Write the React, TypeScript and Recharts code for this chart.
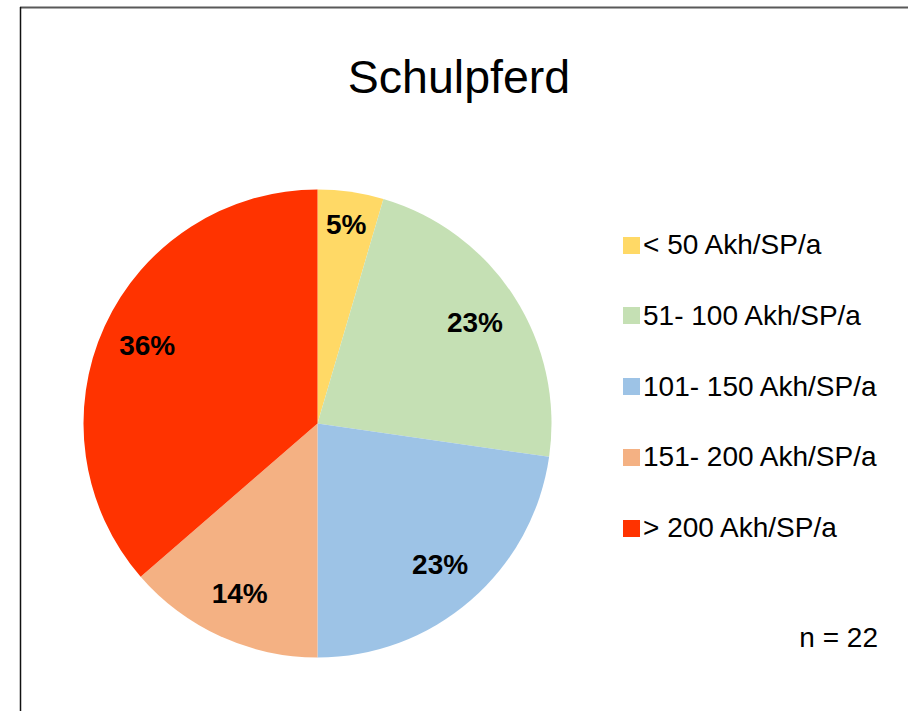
import React from "react";
import { PieChart, Pie, Cell, Legend } from "recharts";

const CATEGORIES = [
  "< 50 Akh/SP/a",
  "51- 100 Akh/SP/a",
  "101- 150 Akh/SP/a",
  "151- 200 Akh/SP/a",
  "> 200 Akh/SP/a",
];
const COUNTS = [1, 5, 5, 3, 8];
const COLORS = ["#FFD966", "#C5E0B4", "#9DC3E6", "#F4B183", "#FF3300"];
const TITLE = "Schulpferd";
const SAMPLE_NOTE = "n = 22";

const FONT = '"Liberation Sans", Arial, sans-serif';
const RADIAN = Math.PI / 180;

const chartData = CATEGORIES.map((name, i) => ({ name, value: COUNTS[i] }));

function renderLabel(props: any) {
  const { cx, cy, midAngle, outerRadius, percent } = props;
  // small slices get their label pushed a bit further out, like Excel does
  const r = outerRadius * (percent < 0.1 ? 0.86 : 0.8);
  const x = cx + r * Math.cos(-midAngle * RADIAN);
  const y = cy + r * Math.sin(-midAngle * RADIAN);
  return (
    <text
      x={x}
      y={y}
      textAnchor="middle"
      dominantBaseline="central"
      fill="#000"
      fontFamily={FONT}
      fontSize={28}
      fontWeight="bold"
    >
      {`${Math.round(percent * 100)}%`}
    </text>
  );
}

// legend keeps the category order (recharts would sort it by name)
function LegendContent() {
  return (
    <div>
      {CATEGORIES.map((name, i) => (
        <div key={name} style={{ height: 70.7 }}>
          <div style={{ display: "flex", alignItems: "center", height: 32 }}>
            <span
              style={{
                display: "inline-block",
                width: 17,
                height: 17,
                marginRight: 3,
                background: COLORS[i],
              }}
            />
            <span
              style={{
                fontFamily: FONT,
                fontSize: 28,
                lineHeight: "32px",
                color: "#000",
                whiteSpace: "nowrap",
              }}
            >
              {name}
            </span>
          </div>
        </div>
      ))}
    </div>
  );
}

export default function App() {
  return (
    <div
      style={{
        position: "fixed",
        left: 0,
        top: 0,
        width: 908,
        height: 711,
        overflow: "hidden",
        background: "#fff",
      }}
    >
      <svg
        width={908}
        height={711}
        style={{ position: "absolute", left: 0, top: 0 }}
      >
        <line x1={20} y1={7.5} x2={908} y2={7.5} stroke="#595959" strokeWidth={2} />
        <line x1={20.5} y1={7} x2={20.5} y2={711} stroke="#111" strokeWidth={1.5} />
        <text
          x={459}
          y={93}
          textAnchor="middle"
          fontFamily={FONT}
          fontSize={46.5}
          fill="#000"
        >
          {TITLE}
        </text>
        <text
          x={878}
          y={647}
          textAnchor="end"
          fontFamily={FONT}
          fontSize={28}
          fill="#000"
        >
          {SAMPLE_NOTE}
        </text>
      </svg>
      <div style={{ position: "absolute", left: 0, top: 0 }}>
        <PieChart
          width={908}
          height={711}
          margin={{ top: 0, right: 0, bottom: 0, left: 0 }}
        >
          <Pie
            data={chartData}
            dataKey="value"
            nameKey="name"
            cx={317.5}
            cy={423.5}
            outerRadius={234}
            startAngle={90}
            endAngle={-270}
            stroke="none"
            label={renderLabel}
            labelLine={false}
            isAnimationActive={false}
          >
            {chartData.map((_, i) => (
              <Cell key={i} fill={COLORS[i]} />
            ))}
          </Pie>
          <Legend
            layout="vertical"
            align="right"
            verticalAlign="top"
            content={<LegendContent />}
            wrapperStyle={{ left: 623, top: 229.3, right: "auto", width: 280 }}
          />
        </PieChart>
      </div>
    </div>
  );
}
